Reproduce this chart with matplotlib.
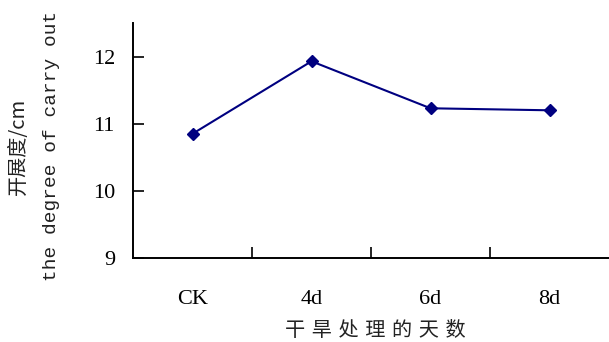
import matplotlib.pyplot as plt

# 干旱处理天数与开展度
categories = ['CK', '4d', '6d', '8d']
spread_cm = [10.85, 11.93, 11.23, 11.20]
y_ticks = [9, 10, 11, 12]

cjk = ['Noto Sans CJK SC', 'DejaVu Sans']

fig = plt.figure(figsize=(6.09, 3.42), dpi=100)
ax = fig.add_axes([0.2184, 0.2456, 0.7816, 0.6871])

x = [i + 0.5 for i in range(len(categories))]
ax.plot(x, spread_cm, color='#000080', linewidth=1.5,
        marker='D', markersize=6.5, markerfacecolor='#000080',
        markeredgecolor='#000080')

ax.set_xlim(0, len(categories))
ax.set_ylim(9, 12.5)
ax.set_yticks(y_ticks)
ax.set_yticklabels([str(t) for t in y_ticks], family='Liberation Serif', fontsize=16)

# 刻度线在类别之间，标签在类别中心
ax.set_xticks(range(1, len(categories)))
ax.set_xticklabels([])
ax.set_xticks(x, minor=True)
ax.set_xticklabels(categories, minor=True, family='Liberation Serif', fontsize=16)
ax.tick_params(axis='x', which='minor', length=0, pad=23)
ax.tick_params(axis='x', which='major', direction='in', length=8, width=1.2)
ax.tick_params(axis='y', direction='in', length=8, width=1.2, pad=13)

for side in ['top', 'right']:
    ax.spines[side].set_visible(False)
for side in ['left', 'bottom']:
    ax.spines[side].set_linewidth(1.4)
    ax.spines[side].set_color('black')

ax.text(-0.24, 0.475, '开展度/cm', transform=ax.transAxes, rotation=90,
        ha='center', va='center', family=cjk, fontsize=14.5, color='#222222')
ax.text(-0.172, 0.478, 'the degree of carry out', transform=ax.transAxes,
        rotation=90, ha='center', va='center', family='Liberation Mono',
        fontsize=14, color='#222222')

fig.text(0.6155, 0.035, '\u2004'.join('干旱处理的天数'), ha='center', va='center',
         family=cjk, fontsize=14.5, color='#222222')

fig.savefig('out.png', dpi=100)
